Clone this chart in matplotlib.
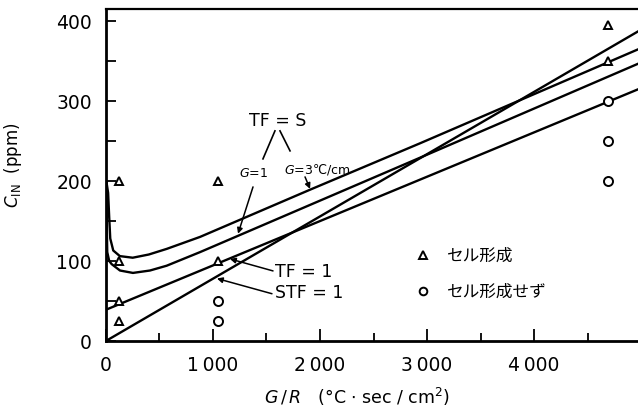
import matplotlib
matplotlib.use("Agg")
import matplotlib.pyplot as plt
from matplotlib.ticker import MultipleLocator, FixedLocator

plt.rcParams['font.family'] = ['DejaVu Sans', 'Noto Sans CJK JP']
plt.rcParams['mathtext.fontset'] = 'dejavusans'

# ---- data ----
# cell formation (triangles)
tri_x = [120, 120, 120, 120, 1050, 1050, 4690, 4690]
tri_y = [200, 100, 50, 25, 200, 100, 395, 350]
# no cell formation (circles)
cir_x = [1050, 1050, 4690, 4690, 4690]
cir_y = [50, 25, 300, 250, 200]

# TF = S, G = 3 degC/cm (upper curve)
g3_x = [3, 20, 30, 40, 68, 130, 250, 400, 567, 879, 1907, 2935, 5000]
g3_y = [200, 185, 155, 128, 113, 106, 104, 108, 115, 130, 189, 247, 366]
# TF = S, G = 1 (lower curve)
g1_x = [3, 8, 12, 30, 53, 131, 252, 411, 567, 879, 2935, 5000]
g1_y = [200, 140, 111, 100, 96, 88, 85, 88, 94, 111, 229, 348]
# TF = 1 line
tf1_x = [0, 5000]
tf1_y = [39, 316]
# STF = 1 line
stf_x = [0, 5000]
stf_y = [0, 389]

xticks = [0, 1000, 2000, 3000, 4000]
xticklabels = ["0", "1\u2009000", "2\u2009000", "3\u2009000", "4\u2009000"]
yticks = [0, 100, 200, 300, 400]
yticklabels = ["0", "100", "200", "300", "400"]

fig = plt.figure(figsize=(6.38, 4.10), dpi=100)
ax = fig.add_axes([0.1661, 0.166, 0.834, 0.810])

lw = 1.7
ax.plot(g3_x, g3_y, color='black', lw=lw, solid_capstyle='round')
ax.plot(g1_x, g1_y, color='black', lw=lw, solid_capstyle='round')
ax.plot(tf1_x, tf1_y, color='black', lw=lw)
ax.plot(stf_x, stf_y, color='black', lw=lw)

ax.plot(tri_x, tri_y, linestyle='none', marker='^', markersize=6,
        markerfacecolor='white', markeredgecolor='black', markeredgewidth=1.4,
        zorder=5)
ax.plot(cir_x, cir_y, linestyle='none', marker='o', markersize=6.5,
        markerfacecolor='white', markeredgecolor='black', markeredgewidth=1.4,
        zorder=5)

ax.set_xlim(0, 4972)
ax.set_ylim(0, 415)

ax.xaxis.set_major_locator(FixedLocator(xticks))
ax.set_xticklabels(xticklabels)
ax.xaxis.set_minor_locator(MultipleLocator(500))
ax.yaxis.set_major_locator(FixedLocator(yticks))
ax.set_yticklabels(yticklabels)
ax.yaxis.set_minor_locator(MultipleLocator(50))

ax.tick_params(axis='both', which='both', direction='in', width=1.3,
               top=False, right=False, labelsize=13.5)
ax.tick_params(axis='x', which='major', length=9, pad=10)
ax.tick_params(axis='x', which='minor', length=6)
ax.tick_params(axis='y', which='major', length=7, pad=10)
ax.tick_params(axis='y', which='minor', length=7)

for s in ['left', 'bottom']:
    ax.spines[s].set_linewidth(2.0)
ax.spines['top'].set_linewidth(1.6)
ax.spines['right'].set_visible(False)

# axis labels
fig.text(13 / 638, 1 - 165 / 410, r'$C_{\rm IN}$  (ppm)', rotation=90,
         ha='center', va='center', fontsize=12)
fig.text(357 / 638, 1 - 397 / 410,
         r'$G\,/\,R$   ($\degree$C $\cdot$ sec / cm$^2$)',
         ha='center', va='center', fontsize=12.5)

# annotations
ax.text(1607, 276, 'TF = S', ha='center', va='center', fontsize=12.5)
ax.plot([1579, 1467], [262.5, 227.5], color='black', lw=1.2)
ax.plot([1626, 1720], [262.5, 237.5], color='black', lw=1.2)
ax.text(1374, 211, r'$G$=1', ha='center', va='center', fontsize=9)
ax.text(1972, 215, r'$G$=3℃/cm', ha='center', va='center', fontsize=9)

arr = dict(arrowstyle='-|>', color='black', lw=1.1, mutation_scale=8,
           shrinkA=0, shrinkB=0)
ax.annotate('', xy=(1234, 134), xytext=(1374, 192.5), arrowprops=arr)
ax.annotate('', xy=(1907, 190), xytext=(1860, 205), arrowprops=arr)

ax.text(1580, 88, 'TF = 1', ha='left', va='center', fontsize=12.5)
ax.annotate('', xy=(1159, 102.5), xytext=(1561, 87.5), arrowprops=arr)
ax.text(1580, 61, 'STF = 1', ha='left', va='center', fontsize=12.5)
ax.annotate('', xy=(1037, 78), xytext=(1551, 59), arrowprops=arr)

# legend (drawn inside the plot)
ax.plot([2963], [107.5], linestyle='none', marker='^', markersize=5.5,
        markerfacecolor='white', markeredgecolor='black', markeredgewidth=1.4)
ax.text(3187, 107.5, 'セル形成', ha='left', va='center', fontsize=12)
ax.plot([2963], [62.5], linestyle='none', marker='o', markersize=5.5,
        markerfacecolor='white', markeredgecolor='black', markeredgewidth=1.4)
ax.text(3187, 62.5, 'セル形成せず', ha='left', va='center', fontsize=12)

fig.savefig('out.png', dpi=100)
